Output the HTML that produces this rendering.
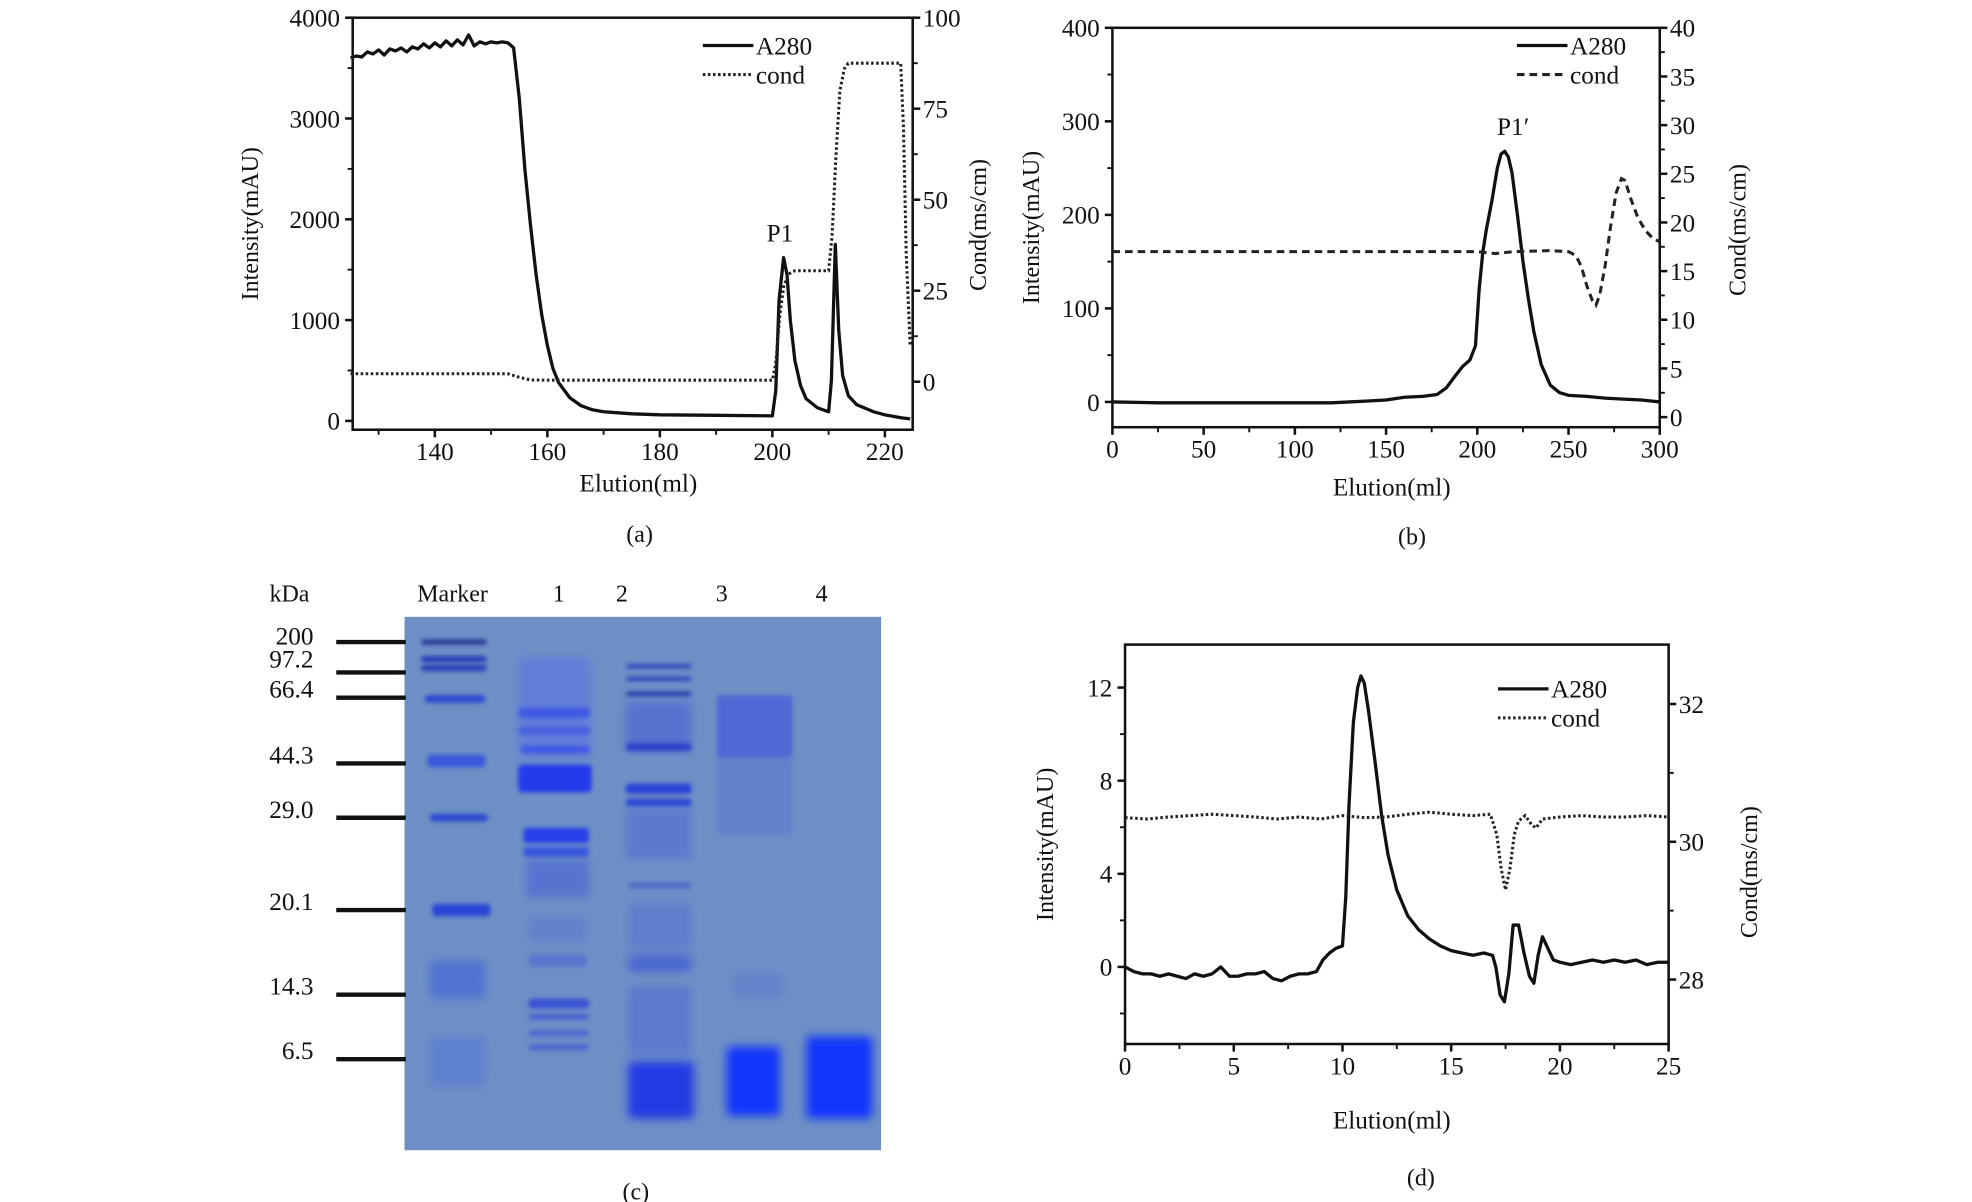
<!DOCTYPE html>
<html><head><meta charset="utf-8"><style>
html,body{margin:0;padding:0;background:#fff;}
svg{display:block;}
text{font-family:"Liberation Serif",serif;fill:#111;}
</style></head><body>
<svg id="fig" width="1972" height="1202" viewBox="0 0 1560 951" preserveAspectRatio="none" xmlns="http://www.w3.org/2000/svg">
<defs>
<filter id="blur2" x="-20%" y="-100%" width="140%" height="300%"><feGaussianBlur stdDeviation="1.6"/></filter>
<filter id="blur4" x="-30%" y="-30%" width="160%" height="160%"><feGaussianBlur stdDeviation="3.5"/></filter>
</defs>
<g id="pa"></g>
<g id="pb"></g>
<g id="pc"></g>
<g id="pd"></g>
</svg>
<script>
// ---------- Panel (a) data ----------
const aX = [125,126,127,128,129,130,131,132,133,134,135,136,137,138,139,140,141,142,143,144,145,146,147,148,149,150,151,152,153,154,155,156,157,158,159,160,161,162,164,166,168,170,175,180,190,200,200.6,201.2,202,202.6,203.2,204,205,206,208,210,210.5,211.2,211.8,212.5,213.5,215,218,220,222,223,224.5];
const aA280 = [3600,3620,3610,3660,3640,3680,3630,3690,3670,3700,3660,3710,3690,3740,3700,3750,3710,3770,3720,3780,3730,3830,3720,3760,3740,3760,3750,3760,3750,3700,3200,2500,1950,1450,1050,750,520,380,230,150,110,90,70,60,55,50,300,1200,1620,1450,1000,600,350,220,130,90,400,1750,900,450,250,160,90,60,40,30,20];
const aCondX = [125,150,153,155,157,160,200,200.6,201.3,202,202.8,204,210,210.6,211.3,212,212.8,213.5,215,222.8,223.3,223.8,224.5];
const aCond = [2.2,2.2,2.2,1.2,0.5,0.4,0.4,5,18,26,29.5,30.5,30.5,40,62,80,86,87.5,87.5,87.5,70,35,10];
const aXTicks = [140,160,180,200,220];
const aYTicks = [0,1000,2000,3000,4000];
const aY2Ticks = [0,25,50,75,100];

// ---------- Panel (b) data ----------
const bX = [0,25,50,75,100,120,140,150,160,170,178,183,188,192,196,199,201,203,205,208,211,213,215,217,219,222,225,228,231,235,240,245,250,260,270,280,290,300];
const bA280 = [0,-1,-1,-1,-1,-1,1,2,5,6,8,15,28,38,45,60,120,160,185,215,250,265,268,262,245,200,150,110,75,40,18,10,7,6,4,3,2,0];
const bCondX = [0,50,100,150,200,205,210,220,240,250,254,257,260,263,265,267,270,273,276,279,281,284,288,292,296,300];
const bCond = [17,17,17,17,17,16.9,16.8,17,17.1,17,16.6,15.5,13.5,12,11.5,12.5,15.5,19.5,23,24.5,24.3,22.5,20.5,19.2,18.4,18];
const bXTicks = [0,50,100,150,200,250,300];
const bYTicks = [0,100,200,300,400];
const bY2Ticks = [0,5,10,15,20,25,30,35,40];

// ---------- Panel (d) data ----------
const dX = [0,0.4,0.8,1.2,1.6,2,2.4,2.8,3.2,3.6,4,4.4,4.8,5.2,5.6,6,6.4,6.8,7.2,7.6,8,8.4,8.8,9.1,9.4,9.7,10,10.15,10.3,10.5,10.7,10.85,11,11.2,11.5,11.8,12.1,12.5,13,13.5,14,14.5,15,15.5,16,16.5,16.9,17.05,17.25,17.45,17.65,17.85,18.1,18.35,18.6,18.8,19,19.2,19.45,19.7,20,20.5,21,21.5,22,22.5,23,23.5,24,24.5,25];
const dA280 = [0,-0.2,-0.3,-0.3,-0.4,-0.3,-0.4,-0.5,-0.3,-0.4,-0.3,0,-0.4,-0.4,-0.3,-0.3,-0.2,-0.5,-0.6,-0.4,-0.3,-0.3,-0.2,0.3,0.6,0.8,0.9,3,7,10.5,12,12.5,12.2,11,8.8,6.5,4.8,3.3,2.2,1.6,1.2,0.9,0.7,0.6,0.5,0.6,0.5,0,-1.2,-1.5,-0.3,1.8,1.8,0.6,-0.4,-0.7,0.5,1.3,0.8,0.3,0.2,0.1,0.2,0.3,0.2,0.3,0.2,0.3,0.1,0.2,0.2];
const dCondX = [0,1,2,3,4,5,6,7,8,9,10,11,12,13,14,15,16,16.8,17.1,17.3,17.5,17.7,17.9,18.1,18.4,18.7,18.9,19.2,20,21,22,23,24,25];
const dCond = [30.35,30.33,30.36,30.38,30.4,30.38,30.36,30.33,30.36,30.33,30.38,30.35,30.36,30.4,30.43,30.4,30.38,30.4,30.1,29.6,29.3,29.6,30.1,30.3,30.38,30.25,30.2,30.33,30.36,30.38,30.36,30.36,30.38,30.36];
const dXTicks = [0,5,10,15,20,25];
const dYTicks = [0,4,8,12];
const dY2Ticks = [28,30,32];

// ---------- Panel (c) gel ----------
const gelMarkers = ["200","97.2","66.4","44.3","29.0","20.1","14.3","6.5"];
const gelLanes = ["Marker","1","2","3","4"];

const NS = "http://www.w3.org/2000/svg";
function mk(parent, tag, attrs){
  const e = document.createElementNS(NS, tag);
  for (const k in attrs) e.setAttribute(k, attrs[k]);
  parent.appendChild(e);
  return e;
}
function lin(d0,d1,r0,r1){ return v => r0 + (v-d0)*(r1-r0)/(d1-d0); }

function chart(g, cfg){
  const {L,R,T,B,xs,ys,ys2} = cfg;
  // frame
  const fr = mk(g,'rect',{x:L,y:T,width:R-L,height:B-T,fill:'none',stroke:'#111','stroke-width':2});
  
  
  // x ticks
  cfg.xTicks.forEach((v,i)=>{
    const x = xs(v);
    const t = mk(g,'line',{x1:x,y1:B,x2:x,y2:B+6,stroke:'#111','stroke-width':2});
    
    
    if (i < cfg.xTicks.length-1 && cfg.xMinor){
      const xm = xs(v + cfg.xMinor);
      const m = mk(g,'line',{x1:xm,y1:B,x2:xm,y2:B+4,stroke:'#111','stroke-width':1.5});
      
      
    }
    const lb = mk(g,'text',{x:x,y:B+24,'text-anchor':'middle','font-size':20});
    lb.textContent = v;
    
    
  });
  if (cfg.xPre){ const xm=xs(cfg.xPre); const m=mk(g,'line',{x1:xm,y1:B,x2:xm,y2:B+4,stroke:'#111','stroke-width':1.5});   }
  cfg.yTicks.forEach((v,i)=>{
    const y = ys(v);
    const t = mk(g,'line',{x1:L-6,y1:y,x2:L,y2:y,stroke:'#111','stroke-width':2});
    
    
    if (cfg.yMinor){
      const ym = ys(v + cfg.yMinor);
      if (ym > T+2){ const m = mk(g,'line',{x1:L-4,y1:ym,x2:L,y2:ym,stroke:'#111','stroke-width':1.5});
      
      }
      const ym2 = ys(v - cfg.yMinor);
      if (i===0 && ym2 < B-2){ const m2 = mk(g,'line',{x1:L-4,y1:ym2,x2:L,y2:ym2,stroke:'#111','stroke-width':1.5});
      
      }
    }
    const lb = mk(g,'text',{x:L-10,y:y+7,'text-anchor':'end','font-size':20});
    lb.textContent = v;
    
    
  });
  cfg.y2Ticks.forEach((v,i)=>{
    const y = ys2(v);
    const t = mk(g,'line',{x1:R,y1:y,x2:R+6,y2:y,stroke:'#111','stroke-width':2});
    
    
    if (cfg.y2Minor){
      const ym = ys2(v + cfg.y2Minor);
      if (ym > T+2){ const m = mk(g,'line',{x1:R,y1:ym,x2:R+4,y2:ym,stroke:'#111','stroke-width':1.5});
      
      }
    }
    const lb = mk(g,'text',{x:R+8,y:y+7,'text-anchor':'start','font-size':20});
    lb.textContent = v;
    
    
  });
  // titles
  const yt = mk(g,'text',{x:0,y:0,'text-anchor':'middle','font-size':19,transform:`translate(${cfg.ytX},${(T+B)/2}) rotate(-90)`});
  yt.textContent = 'Intensity(mAU)';
  
  
  const y2t = mk(g,'text',{x:0,y:0,'text-anchor':'middle','font-size':19,transform:`translate(${cfg.y2tX},${cfg.y2tY}) rotate(-90)`});
  y2t.textContent = 'Cond(ms/cm)';
  
  
  const xt = mk(g,'text',{x:cfg.xtX,y:cfg.xtY,'text-anchor':'middle','font-size':20});
  xt.textContent = 'Elution(ml)';
  
  
  const cap = mk(g,'text',{x:cfg.capX,y:cfg.capY,'text-anchor':'middle','font-size':19});
  cap.textContent = cfg.cap;
  
  
  // series
  const pA = cfg.ax.map((x,i)=>`${i?'L':'M'}${xs(x).toFixed(1)},${ys(cfg.ay[i]).toFixed(1)}`).join('');
  const sa = mk(g,'path',{d:pA,fill:'none',stroke:'#111','stroke-width':2.6,'stroke-linejoin':'round'});
  
  
  const pC = cfg.cx.map((x,i)=>`${i?'L':'M'}${xs(x).toFixed(1)},${ys2(cfg.cy[i]).toFixed(1)}`).join('');
  const sc = mk(g,'path',{d:pC,fill:'none',stroke:'#222','stroke-width':2.4,'stroke-dasharray':cfg.dash});
  
  
  // legend
  const lx = cfg.legX, ly = cfg.legY;
  const l1 = mk(g,'line',{x1:lx,y1:ly,x2:lx+40,y2:ly,stroke:'#111','stroke-width':2.6});
  
  
  const t1 = mk(g,'text',{x:lx+42,y:ly+7,'font-size':20});
  t1.textContent='A280';
  
  
  const l2 = mk(g,'line',{x1:lx,y1:ly+23,x2:lx+40,y2:ly+23,stroke:'#222','stroke-width':2.4,'stroke-dasharray':cfg.dash});
  
  
  const t2 = mk(g,'text',{x:lx+42,y:ly+30,'font-size':20});
  t2.textContent='cond';
  
  
  if (cfg.peak){
    const p = mk(g,'text',{x:cfg.peak[0],y:cfg.peak[1],'text-anchor':'middle','font-size':20});
    p.textContent = cfg.peak[2];
    
    
  }
}

// Panel a
chart(document.getElementById('pa'),{
  L:279,R:722,T:14,B:340,
  xs:lin(140,220,344,700), ys:lin(0,4000,333,14), ys2:lin(0,100,302,14),
  xTicks:aXTicks, xMinor:10, xPre:130, yTicks:aYTicks, yMinor:500, y2Ticks:aY2Ticks, y2Minor:12.5,
  ax:aX, ay:aA280, cx:aCondX, cy:aCond, dash:'2 2',
  ytX:204, y2tX:780, y2tY:178, xtX:505, xtY:389, capX:506, capY:429, cap:'(a)',
  legX:556, legY:36, peak:[617,191,'P1']
});
// Panel b
chart(document.getElementById('pb'),{
  L:880,R:1313,T:22,B:338,
  xs:lin(0,300,880,1313), ys:lin(0,400,318,22), ys2:lin(0,40,330,22),
  xTicks:bXTicks, xMinor:25, yTicks:bYTicks, yMinor:50, y2Ticks:bY2Ticks, y2Minor:2.5,
  ax:bX, ay:bA280, cx:bCondX, cy:bCond, dash:'6 4',
  ytX:822, y2tX:1381, y2tY:182, xtX:1101, xtY:392, capX:1117, capY:431, cap:'(b)',
  legX:1200, legY:36, peak:[1197,107,'P1′']
});
// Panel d
chart(document.getElementById('pd'),{
  L:890,R:1320,T:510,B:826,
  xs:lin(0,25,890,1320), ys:lin(0,12,765,544), ys2:lin(28,32,775,557),
  xTicks:dXTicks, xMinor:2.5, yTicks:dYTicks, yMinor:2, y2Ticks:dY2Ticks, y2Minor:1,
  ax:dX, ay:dA280, cx:dCondX, cy:dCond, dash:'2 2',
  ytX:833, y2tX:1390, y2tY:690, xtX:1101, xtY:893, capX:1124, capY:938, cap:'(d)',
  legX:1185, legY:545
});

// Panel c gel
(function(){
  const g = document.getElementById('pc');
  const gel = mk(g,'rect',{x:320,y:488,width:377,height:422,fill:'#6e8fc6'});
  
  
  const markerY = [508,532,552,604,647,720,787,838];
  gelMarkers.forEach((m,i)=>{
    const ln = mk(g,'line',{x1:266,y1:markerY[i],x2:321,y2:markerY[i],stroke:'#111','stroke-width':3.5});
    
    
    const t = mk(g,'text',{x:248,y:markerY[i]+(i===1?-4:i===0?2:0),'text-anchor':'end','font-size':20});
    t.textContent = m;
    
    
  });
  const kd = mk(g,'text',{x:229,y:476,'text-anchor':'middle','font-size':19});
  kd.textContent='kDa';
  
  
  const laneX = [358,442,492,571,650];
  gelLanes.forEach((n,i)=>{
    const t = mk(g,'text',{x:laneX[i],y:476,'text-anchor':'middle','font-size':19});
    t.textContent = n;
    
    
  });
  // bands: [x, y, w, h, color, opacity, blur]
  const bands = [
    [333,506,52,4,'#1a2a90',0.9,'blur2'],[333,519,52,5,'#1f35b5',0.9,'blur2'],[333,526,52,5,'#1f35b5',0.9,'blur2'],
    [336,550,48,6,'#2640d0',0.9,'blur2'],[338,597,46,10,'#3050e0',0.85,'blur2'],[340,644,46,6,'#2040d0',0.9,'blur2'],
    [342,715,46,10,'#2040d8',0.9,'blur2'],[340,760,44,30,'#4060d8',0.6,'blur4'],[340,820,44,40,'#5070d8',0.45,'blur4'],
    [410,520,57,80,'#5a70e8',0.55,'blur4'],[410,560,57,8,'#3048e8',0.7,'blur2'],[410,575,57,6,'#3048e8',0.6,'blur2'],
    [412,590,55,6,'#3048e8',0.7,'blur2'],[410,605,58,22,'#1a30f0',0.9,'blur2'],[414,655,52,12,'#1a30f0',0.85,'blur2'],
    [414,670,52,8,'#2040e8',0.7,'blur2'],[416,680,50,30,'#4058d8',0.5,'blur4'],[418,725,46,20,'#5068d8',0.35,'blur4'],
    [418,755,46,10,'#4058d8',0.45,'blur2'],[418,790,48,8,'#2a40d8',0.75,'blur2'],[418,802,48,5,'#3048d8',0.6,'blur2'],
    [418,815,48,5,'#3048d8',0.55,'blur2'],[418,826,48,5,'#3048d8',0.55,'blur2'],
    [495,525,52,4,'#2a3ab8',0.8,'blur2'],[495,535,52,4,'#2a3ab8',0.8,'blur2'],[495,547,52,4,'#1f30a8',0.85,'blur2'],
    [495,555,52,40,'#4058d8',0.5,'blur4'],[495,588,52,6,'#2238c8',0.85,'blur2'],[495,620,52,8,'#2038d8',0.9,'blur2'],
    [495,632,52,6,'#2038d8',0.85,'blur2'],[495,640,52,40,'#4a60d8',0.45,'blur4'],[497,698,50,5,'#3048c8',0.5,'blur2'],
    [497,715,50,35,'#4a60d8',0.4,'blur4'],[497,755,50,14,'#3550d8',0.6,'blur4'],[497,780,50,55,'#4a62d8',0.45,'blur4'],
    [497,840,52,45,'#1a30e8',0.9,'blur4'],
    [567,550,60,50,'#3a52e0',0.6,'blur2'],[567,600,60,60,'#5068d8',0.35,'blur2'],[580,770,40,20,'#5068d8',0.3,'blur4'],
    [575,828,42,55,'#1030ff',0.95,'blur4'],[638,820,52,65,'#1030ff',0.95,'blur4']
  ];
  bands.forEach(b=>{
    const r = mk(g,'rect',{x:b[0],y:b[1],width:b[2],height:b[3],fill:b[4],opacity:b[5],filter:`url(#${b[6]})`,rx:3});
    
    
  });
  const cap = mk(g,'text',{x:503,y:949,'text-anchor':'middle','font-size':19});
  cap.textContent='(c)';
  
  
})();
</script>
</body></html>
